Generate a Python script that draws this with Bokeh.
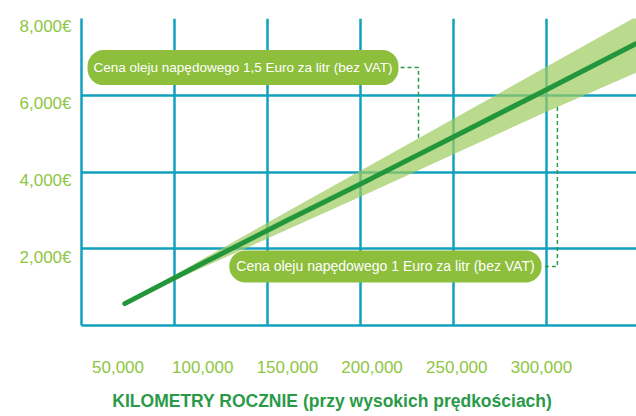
import numpy as np
from bokeh.plotting import figure
from bokeh.models import Range1d, LinearAxis, Grid, FixedTicker, Label
from bokeh.embed import file_html
from bokeh.resources import INLINE

# ---- data ----
km = [54000, 100000, 150000, 200000, 250000, 300000, 356000]
cost_mid = [570, 1620, 2740, 3840, 4960, 6080, 7350]
cost_hi = [570, 1730, 2970, 4200, 5430, 6670, 8050]   # 1,5 Euro / litr
cost_lo = [570, 1510, 2500, 3490, 4500, 5510, 6590]   # 1 Euro / litr
x_ticks = [50000, 100000, 150000, 200000, 250000, 300000]
y_ticks = [2000, 4000, 6000, 8000]
label_hi = "Cena oleju napędowego 1,5 Euro za litr (bez VAT)"
label_lo = "Cena oleju napędowego 1 Euro za litr (bez VAT)"
x_title = "KILOMETRY ROCZNIE (przy wysokich prędkościach)"

# ---- styles ----
TEAL = "#13A0BE"
LIGHT = "#8DC63F"
DARK = "#23963C"
BAND = "#9CCB5E"
PILL = "#8DBE3C"
TITLE_C = "#2A9A48"
FONT = "Liberation Sans"

p = figure(width=636, height=416,
           x_range=Range1d(28450, 356100), y_range=Range1d(0, 8000),
           x_axis_type=None, y_axis_type=None,
           output_backend="svg", toolbar_location=None,
           min_border_left=81, min_border_right=0,
           min_border_top=18, min_border_bottom=91)
p.outline_line_color = None
p.background_fill_color = "white"
p.border_fill_color = "white"
p.extra_x_ranges = {"cells": Range1d(0, 5.968)}
p.extra_y_ranges = {"ylab": Range1d(221, 8221)}

# grid cells
vgrid = Grid(dimension=0, ticker=FixedTicker(ticks=[1, 2, 3, 4, 5]), x_range_name="cells",
             grid_line_color=TEAL, grid_line_width=2.5)
hgrid = Grid(dimension=1, ticker=FixedTicker(ticks=[0] + y_ticks),
             grid_line_color=TEAL, grid_line_width=2.5)
p.add_layout(vgrid)
p.add_layout(hgrid)

# axes
yax = LinearAxis(y_range_name="ylab", ticker=FixedTicker(ticks=y_ticks),
                 major_label_overrides={v: f"{v:,}€" for v in y_ticks})
# trailing no-break spaces shift the centred title a little to the left, as in the original
xax = LinearAxis(ticker=FixedTicker(ticks=x_ticks),
                 major_label_overrides={v: f"{v:,}" for v in x_ticks},
                 axis_label=x_title + "\u00a0" * 11)
for ax, so in ((yax, 10), (xax, 35)):
    ax.axis_line_color = TEAL
    ax.axis_line_width = 2.5
    ax.major_tick_line_color = None
    ax.minor_tick_line_color = None
    ax.major_tick_out = 0
    ax.major_tick_in = 0
    ax.major_label_text_color = LIGHT
    ax.major_label_text_font = FONT
    ax.major_label_text_font_size = "17px"
    ax.major_label_standoff = so
xax.axis_label_standoff = 15
xax.axis_label_text_font = FONT
xax.axis_label_text_font_size = "17.5px"
xax.axis_label_text_font_style = "bold"
xax.axis_label_text_color = TITLE_C
p.add_layout(yax, "left")
p.add_layout(xax, "below")

# band and line
p.varea(x=km, y1=cost_lo, y2=cost_hi, fill_color=BAND, fill_alpha=0.7)
p.line(km, cost_mid, line_color=DARK, line_width=5, line_cap="round")

# dashed leaders
hi_box = (216800, 6720)
hi_bend = 227400
p.line([hi_box[0], hi_bend, hi_bend],
       [hi_box[1], hi_box[1], float(np.interp(hi_bend, km, cost_hi))],
       line_color=TITLE_C, line_width=1.5, line_dash="4 3")
lo_box = (302000, 1540)
lo_bend = 309400
p.line([lo_box[0], lo_bend, lo_bend],
       [lo_box[1], lo_box[1], float(np.interp(lo_bend, km, cost_lo))],
       line_color=TITLE_C, line_width=1.5, line_dash="4 3")

# pill labels
for txt, x, y, fs, pad in ((label_hi, 123800, 6720, "13.5px", (6, 10)),
                           (label_lo, 207900, 1540, "14px", (7, 8))):
    p.add_layout(Label(x=x, y=y, text=txt, text_align="center", text_baseline="middle",
                       text_color="white", text_font=FONT, text_font_size=fs,
                       background_fill_color=PILL, border_radius=16, padding=pad))

open("out.html", "w").write(file_html(p, INLINE))
